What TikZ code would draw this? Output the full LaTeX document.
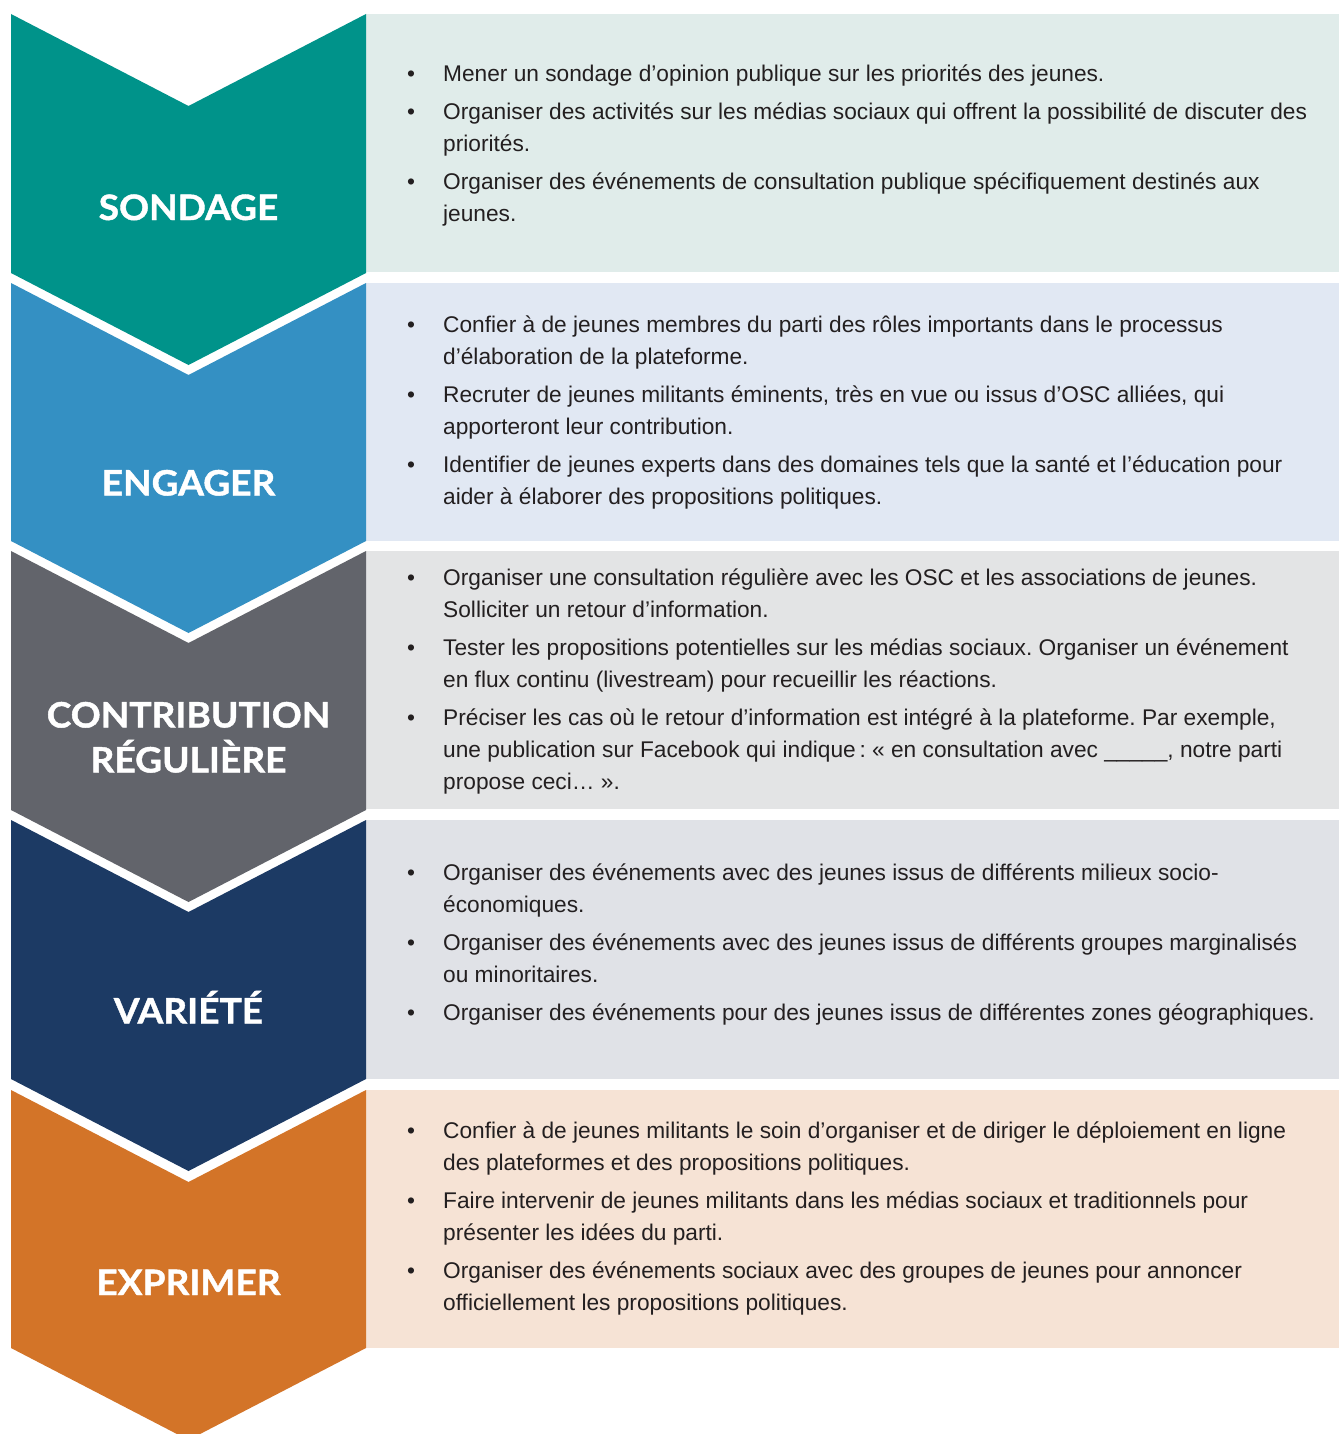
\documentclass[tikz,border=0pt]{standalone}
\usepackage{fontspec}
\setmainfont{Liberation Sans}
\newfontfamily\titlefont[FakeStretch=1.06,FakeBold=1.2]{Lato}
\frenchspacing
\definecolor{cteal}{HTML}{00938A}
\definecolor{cblue}{HTML}{3490C3}
\definecolor{cgray}{HTML}{62646B}
\definecolor{cnavy}{HTML}{1C3A64}
\definecolor{corange}{HTML}{D37428}
\definecolor{pteal}{HTML}{E0ECEA}
\definecolor{pblue}{HTML}{E1E8F3}
\definecolor{pgray}{HTML}{E3E4E5}
\definecolor{pnavy}{HTML}{E0E2E7}
\definecolor{porange}{HTML}{F6E3D5}
\definecolor{ink}{HTML}{231F20}
\tikzset{
  titletext/.style={anchor=base, text=white, inner sep=0pt, font=\titlefont\bfseries\fontsize{35}{45}\selectfont},
  bodytext/.style={anchor=base west, text=ink, inner sep=0pt, font=\fontsize{22.7}{32}\selectfont\frenchspacing},
}
\newcommand\bul{\textbullet}
\begin{document}
\begin{tikzpicture}[x=1pt,y=-1pt]
\useasboundingbox (0,0) rectangle (1339,1434);
\fill[white] (0,0) rectangle (1339,1434);
\clip (0,0) rectangle (1339,1434);
% panels
\fill[pteal]   (366,14)   rectangle (1339,272);
\fill[pblue]   (366,283)  rectangle (1339,541);
\fill[pgray]   (366,551)  rectangle (1339,809);
\fill[pnavy]   (366,820)  rectangle (1339,1079);
\fill[porange] (366,1090) rectangle (1339,1348);
% chevrons
\fill[cteal]   (11,14)   -- (188.5,106)  -- (366,14)   -- (366,273)  -- (188.5,365)  -- (11,273)  -- cycle;
\fill[cblue]   (11,283)  -- (188.5,375)  -- (366,283)  -- (366,541)  -- (188.5,633)  -- (11,541)  -- cycle;
\fill[cgray]   (11,551)  -- (188.5,643)  -- (366,551)  -- (366,810)  -- (188.5,902)  -- (11,810)  -- cycle;
\fill[cnavy]   (11,820)  -- (188.5,912)  -- (366,820)  -- (366,1079) -- (188.5,1171) -- (11,1079) -- cycle;
\fill[corange] (11,1090) -- (188.5,1182) -- (366,1090) -- (366,1348) -- (188.5,1440) -- (11,1348) -- cycle;
% titles
\node[titletext] (l1) at (188.5,220) {SONDAGE};
\node[titletext] (l2) at (188.5,495.5) {ENGAGER};
\node[titletext] (l3a) at (188.5,727.5) {CONTRIBUTION};
\node[titletext] (l3b) at (188.5,772.5) {RÉGULIÈRE};
\node[titletext] (l4) at (188.5,1023.5) {VARIÉTÉ};
\node[titletext] (l5) at (188.5,1295) {EXPRIMER};
% texts
\node[bodytext] (t1) at (407,82) {\begin{tabular}[t]{@{}p{36pt}@{}l@{}}
\bul & Mener un sondage d’opinion publique sur les priorités des jeunes.\\[6pt]
\bul & Organiser des activités sur les médias sociaux qui offrent la possibilité de discuter des\\
 & priorités.\\[6pt]
\bul & Organiser des événements de consultation publique spécifiquement destinés aux\\
 & jeunes.
\end{tabular}};
\node[bodytext] (t2) at (407,332) {\begin{tabular}[t]{@{}p{36pt}@{}l@{}}
\bul & Confier à de jeunes membres du parti des rôles importants dans le processus\\
 & d’élaboration de la plateforme.\\[6pt]
\bul & Recruter de jeunes militants éminents, très en vue ou issus d’OSC alliées, qui\\
 & apporteront leur contribution.\\[6pt]
\bul & Identifier de jeunes experts dans des domaines tels que la santé et l’éducation pour\\
 & aider à élaborer des propositions politiques.
\end{tabular}};
\node[bodytext] (t3) at (407,585) {\begin{tabular}[t]{@{}p{36pt}@{}l@{}}
\bul & Organiser une consultation régulière avec les OSC et les associations de jeunes.\\
 & Solliciter un retour d’information.\\[6pt]
\bul & Tester les propositions potentielles sur les médias sociaux. Organiser un événement\\
 & en flux continu (livestream) pour recueillir les réactions.\\[6pt]
\bul & Préciser les cas où le retour d’information est intégré à la plateforme. Par exemple,\\
 & une publication sur Facebook qui indique\,: « en consultation avec \_\_\_\_\_, notre parti\\
 & propose ceci… ».
\end{tabular}};
\node[bodytext] (t4) at (407,880) {\begin{tabular}[t]{@{}p{36pt}@{}l@{}}
\bul & Organiser des événements avec des jeunes issus de différents milieux socio-\\
 & économiques.\\[6pt]
\bul & Organiser des événements avec des jeunes issus de différents groupes marginalisés\\
 & ou minoritaires.\\[6pt]
\bul & Organiser des événements pour des jeunes issus de différentes zones géographiques.
\end{tabular}};
\node[bodytext] (t5) at (407,1138) {\begin{tabular}[t]{@{}p{36pt}@{}l@{}}
\bul & Confier à de jeunes militants le soin d’organiser et de diriger le déploiement en ligne\\
 & des plateformes et des propositions politiques.\\[6pt]
\bul & Faire intervenir de jeunes militants dans les médias sociaux et traditionnels pour\\
 & présenter les idées du parti.\\[6pt]
\bul & Organiser des événements sociaux avec des groupes de jeunes pour annoncer\\
 & officiellement les propositions politiques.
\end{tabular}};
\end{tikzpicture}
\end{document}
